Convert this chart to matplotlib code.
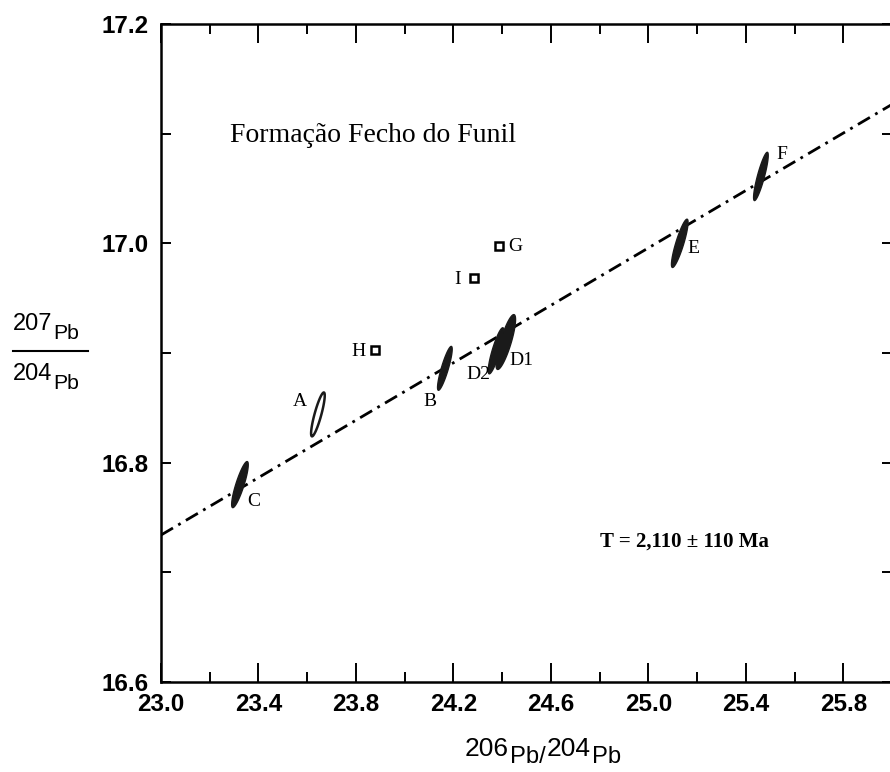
import numpy as np
import matplotlib
matplotlib.use("Agg")
import matplotlib.pyplot as plt
from matplotlib.lines import Line2D
from matplotlib.ticker import MultipleLocator, FixedLocator

# Pb-Pb data: error ellipses (centre, half extent in x and y, correlation)
ell_names = ["C", "A", "B", "D2", "D1", "E", "F"]
ell_x = [23.324, 23.644, 24.165, 24.375, 24.415, 25.129, 25.462]
ell_y = [16.780, 16.844, 16.886, 16.902, 16.910, 17.000, 17.061]
ell_sx = [0.034, 0.028, 0.030, 0.032, 0.040, 0.034, 0.030]
ell_sy = [0.021, 0.020, 0.020, 0.021, 0.025, 0.022, 0.022]
ell_rho = [0.86, 0.86, 0.87, 0.86, 0.82, 0.87, 0.87]
ell_filled = [True, False, True, True, True, True, True]

# samples off the isochron (small squares)
sq_names = ["H", "I", "G"]
sq_x = [23.878, 24.284, 24.387]
sq_y = [16.903, 16.968, 16.998]

# isochron T = 2110 Ma
iso_slope = 0.1309
iso_y0 = 16.734  # value at x = 23.0

xticks = [23.0, 23.4, 23.8, 24.2, 24.6, 25.0, 25.4, 25.8]
yticks = [16.6, 16.8, 17.0, 17.2]

# label offsets (points) relative to each mark
ell_off = [(10, -12), (-13, 9), (-11, -24), (-13, -17), (11, -13), (10, -4), (15, 16)]
sq_off = [(-12, -1), (-12, -1), (12, -1)]

sans = "Liberation Sans"
serif = "Liberation Serif"

fig = plt.figure(figsize=(8.9, 7.72), dpi=100)
ax = fig.add_axes([161 / 890, 90 / 772, 731 / 890, 658 / 772])
ax.set_xlim(23.0, 26.0)
ax.set_ylim(16.6, 17.2)

# isochron line
xl = np.array([23.0, 26.0])
ax.plot(xl, iso_y0 + iso_slope * (xl - 23.0), color="k", lw=2.0,
        linestyle=(0, (5, 2.2, 1, 2.2)), zorder=2)

# error ellipses
t = np.linspace(0, 2 * np.pi, 200)
for i in range(len(ell_names)):
    ex = ell_x[i] + ell_sx[i] * np.cos(t)
    ey = ell_y[i] + ell_sy[i] * (ell_rho[i] * np.cos(t) + np.sqrt(1 - ell_rho[i] ** 2) * np.sin(t))
    if ell_filled[i]:
        ax.fill(ex, ey, color="#1a1a1a", lw=1.0, zorder=3)
    else:
        ax.fill(ex, ey, facecolor="white", edgecolor="#1a1a1a", lw=1.8, zorder=3)
    ax.annotate(ell_names[i], (ell_x[i], ell_y[i]), xytext=ell_off[i],
                textcoords="offset points", ha="center", va="center",
                family=serif, fontsize=14)

ax.plot(sq_x, sq_y, ls="none", marker="s", ms=5.5, mfc="white", mec="k", mew=1.8, zorder=3)
for i in range(len(sq_names)):
    ax.annotate(sq_names[i], (sq_x[i], sq_y[i]), xytext=sq_off[i],
                textcoords="offset points", ha="center", va="center",
                family=serif, fontsize=14)

ax.text(0.094, 0.83, "Formação Fecho do Funil", transform=ax.transAxes,
        family=serif, fontsize=20, ha="left", va="center")
ax.text(0.60, 0.213, "T = 2,110 ± 110 Ma", transform=ax.transAxes,
        family=serif, fontsize=15, ha="left", va="center", weight="bold")

# axes styling
for s in ax.spines.values():
    s.set_linewidth(1.8)
ax.xaxis.set_major_locator(FixedLocator(xticks))
ax.xaxis.set_minor_locator(MultipleLocator(0.2))
ax.yaxis.set_major_locator(FixedLocator(yticks))
ax.yaxis.set_minor_locator(MultipleLocator(0.1))
ax.set_xticklabels([f"{v:.1f}" for v in xticks])
ax.set_yticklabels([f"{v:.1f}" for v in yticks])
ax.tick_params(axis="x", which="major", direction="in", length=14, width=1.4,
               top=True, pad=8)
ax.tick_params(axis="x", which="minor", direction="in", length=7, width=1.4, top=True)
ax.tick_params(axis="y", which="both", direction="in", length=7, width=1.4,
               right=True, pad=9)
for lab in ax.get_xticklabels() + ax.get_yticklabels():
    lab.set_family(sans)
    lab.set_weight("bold")
    lab.set_fontsize(17.5)


def iso_label(x, y, mass, size, drop, tail="Pb"):
    # mass number followed by a lowered, smaller "Pb"
    t0 = fig.text(x, y, mass, family=sans, fontsize=size, ha="left", va="baseline")
    fig.canvas.draw()
    bb = t0.get_window_extent()
    t1 = fig.text((bb.x1 + 1) / fig.bbox.width, y - drop / 772, tail, family=sans,
                  fontsize=size * 0.9, ha="left", va="baseline")
    fig.canvas.draw()
    return t1.get_window_extent().x1 / fig.bbox.width


# y label as a fraction
iso_label(13 / 890, 1 - 330 / 772, "207", 17, 9)
iso_label(13 / 890, 1 - 380 / 772, "204", 17, 9)
fig.add_artist(Line2D([13 / 890, 88 / 890], [1 - 351 / 772, 1 - 351 / 772],
                      color="k", lw=1.5))

# x label
xe = iso_label(465 / 890, 1 - 756 / 772, "206", 19, 7, tail="Pb/")
iso_label(xe + 1 / 890, 1 - 756 / 772, "204", 19, 7)

fig.savefig("out.png", dpi=100)
